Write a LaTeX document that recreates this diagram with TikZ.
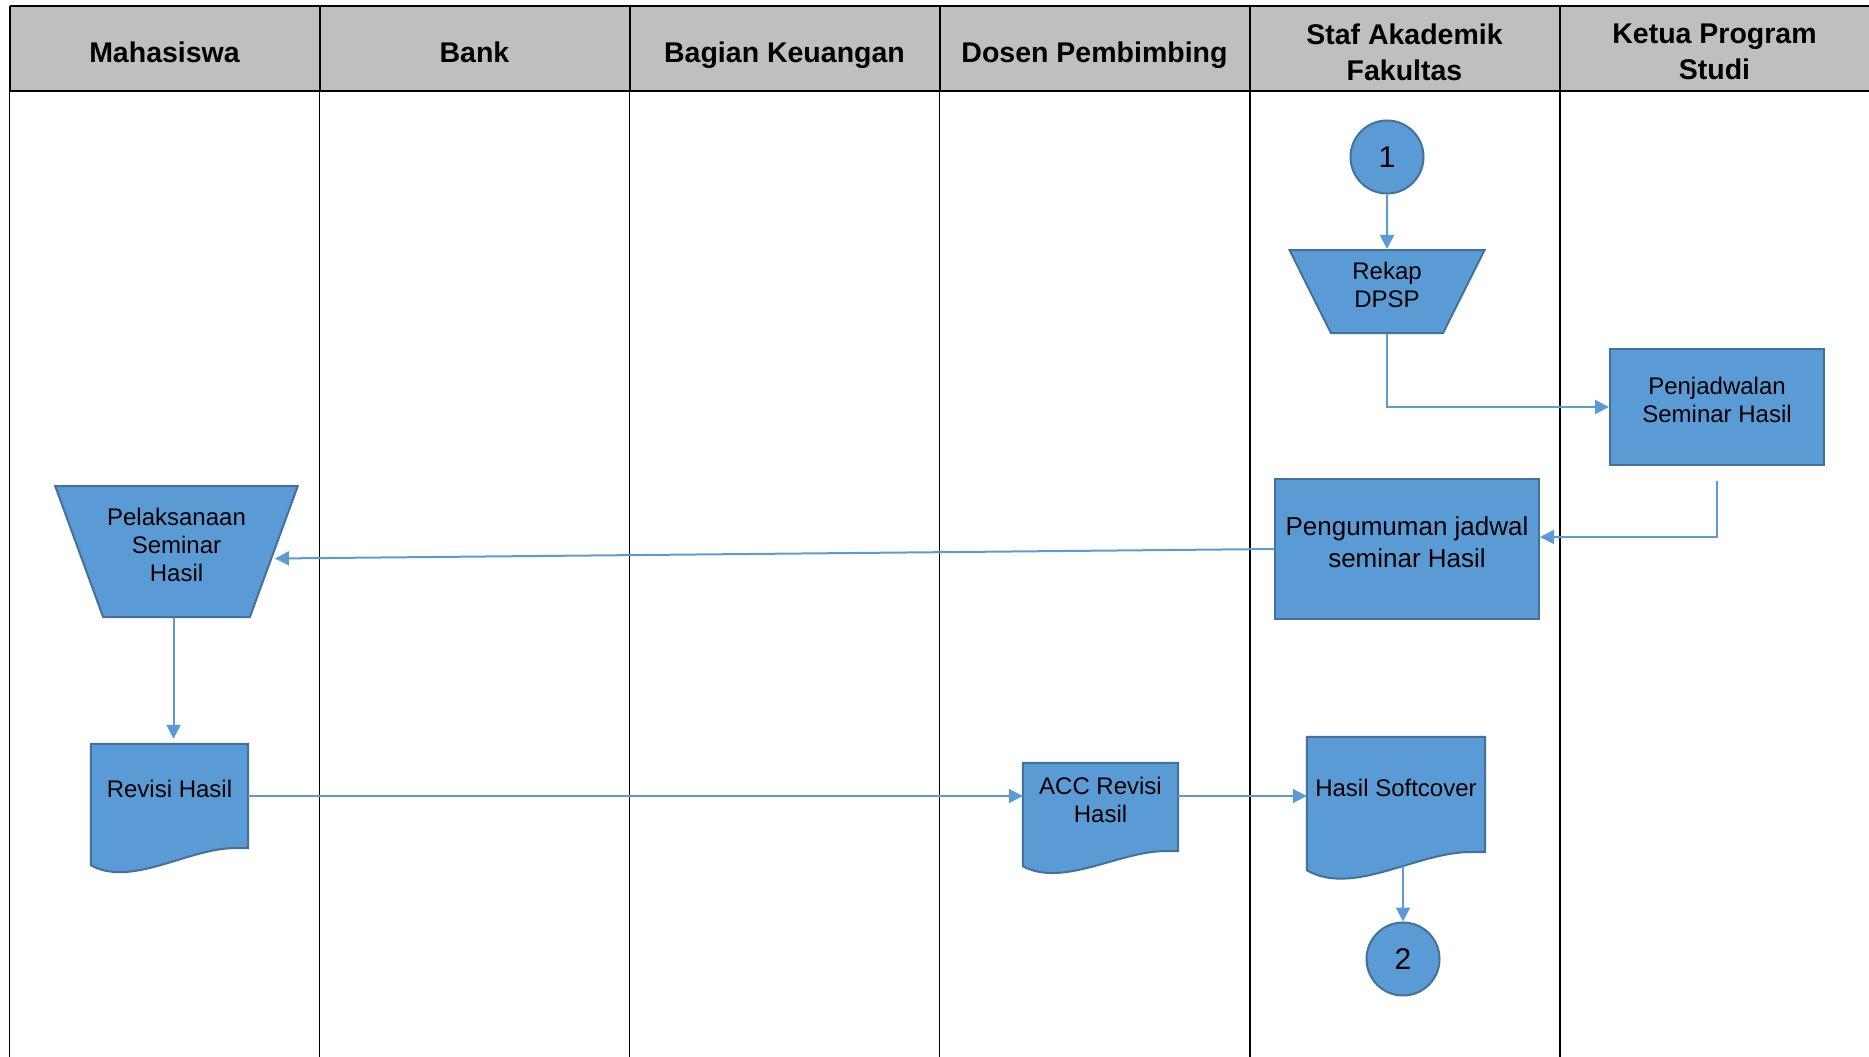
\documentclass[tikz,border=0pt]{standalone}
\usepackage{fontspec}
\setmainfont{Liberation Sans}
\usetikzlibrary{shapes.geometric,arrows.meta,calc,backgrounds}
\definecolor{boxblue}{HTML}{5B9BD5}
\definecolor{boxedge}{HTML}{41719C}
\definecolor{headgray}{HTML}{BFBFBF}
\newcommand{\lowpad}{\rule[-14pt]{0pt}{14pt}}
\newcommand{\docshape}[3]{%
  \draw[docline] (#1.north west) -- (#1.north east) -- (#1.south east)
    -- ($(#1.south east)!0.11!(#1.south west)$)
    .. controls ($(#1.south east)!0.4!(#1.south west)+(0,2)$)
    and ($(#1.south east)!0.75!(#1.south west)+(0,#3)$)
    .. ($(#1.south west)+(0,#2)$) -- cycle;}

\begin{document}
\begin{tikzpicture}
    [x=1pt, y=-1pt,
 head/.style ={font=\fontsize{28.5}{36}\selectfont\bfseries, align=center},
 block/.style ={rectangle, draw=boxedge, line width=2pt, fill=boxblue, align=center, font=\fontsize{24}{28}\selectfont},
 doc/.style ={rectangle, align=center, font=\fontsize{24}{28}\selectfont},
 docline/.style ={draw=boxedge, line width=2pt, fill=boxblue},
 manual/.style ={trapezium, trapezium stretches=true, shape border rotate=180, draw=boxedge, line width=2pt, fill=boxblue, align=center, font=\fontsize{24}{28}\selectfont},
 conn/.style ={circle, draw=boxedge, line width=2pt, fill=boxblue, minimum size=73pt, inner sep=0pt, font=\fontsize{30}{36}\selectfont},
 flow/.style ={draw=boxblue, line width=2pt, -{Triangle[length=14pt,width=14pt]}}]
    \useasboundingbox (0,0) rectangle (1869,1057);
        \fill[headgray] (9.5,6.5) rectangle (1869,91);
        \draw[line width=2pt] (9.5,6.5) -- (1869,6.5) (9.5,91) -- (1869,91);
        \foreach \lx in {9.5,319.5,629.5,939.5,1249.5,1559.5}
            \draw[line width=2pt] (\lx,6.5) -- (\lx,91);
        \foreach \lx in {9.5,319.5,629.5,939.5}
            \draw[line width=1pt] (\lx,91) -- (\lx,1057);
        \foreach \lx in {1249.5,1559.5}
            \draw[line width=2pt] (\lx,91) -- (\lx,1057);
        \node[head] (mhs) at (164.5,52) {Mahasiswa};
        \node[head] (bank) at (474.5,52) {Bank};
        \node[head, text depth=0pt] (keu) at (784.5,52) {Bagian Keuangan};
        \node[head, text depth=0pt] (dosen) at (1094.5,52) {Dosen Pembimbing};
        \node[head] (staf) at (1404.5,52) {Staf Akademik\\Fakultas};
        \node[head] (kaprodi) at (1714.5,52) {Ketua Program\\Studi};
        \node[conn] (c1) at (1387,157) {1};
        \node[manual, trapezium angle=67, minimum width=195pt, minimum height=83pt] (rekap) at (1387,291.5) {Rekap\\DPSP\lowpad};
        \node[block, minimum width=214pt, minimum height=116pt] (penj) at (1717,407) {Penjadwalan\\Seminar Hasil\lowpad};
        \node[block, font=\fontsize{26}{32}\selectfont, minimum width=264pt, minimum height=140pt] (peng) at (1407,549) {Pengumuman jadwal\\seminar Hasil\lowpad};
        \node[manual, trapezium angle=63, inner xsep=4pt, minimum width=226pt, minimum height=131pt] (pelak) at (176.5,551.5) {Pelaksanaan\\Seminar\\Hasil\lowpad};
        \node[doc, minimum width=157pt, minimum height=104pt] (rev) at (169.5,796) {Revisi Hasil\lowpad};
        \node[doc, minimum width=155pt, minimum height=88pt] (acc) at (1100.5,807) {ACC Revisi\\Hasil\lowpad};
        \node[doc, minimum width=178pt, minimum height=115pt] (soft) at (1396,794.5) {Hasil Softcover\lowpad};
        \node[conn] (c2) at (1403,959) {2};
        \begin{pgfonlayer}{background}
            \docshape{rev}{17}{39}
            \docshape{acc}{15}{36}
            \docshape{soft}{18}{44}
        \end{pgfonlayer}
        \draw[flow] (c1) -- (rekap);
        \draw[flow] (rekap.south) |- (penj.west);
        \draw[flow, shorten <=15pt] (penj.south) |- ([yshift=12pt]peng.east);
        \draw[flow] (peng.west) -- ([yshift=-7pt]pelak.east);
        \draw[flow, shorten >=5pt] ([xshift=-3pt]pelak.south) -- ([xshift=-3pt]pelak.south |- rev.north);
        \draw[flow] (rev.east) -- (rev.east -| acc.west);
        \draw[flow] (rev.east -| acc.east) -- (rev.east -| soft.west);
        \draw[flow, shorten <=14pt] (c2 |- soft.south) -- (c2);
    \end{tikzpicture}
\end{document}
